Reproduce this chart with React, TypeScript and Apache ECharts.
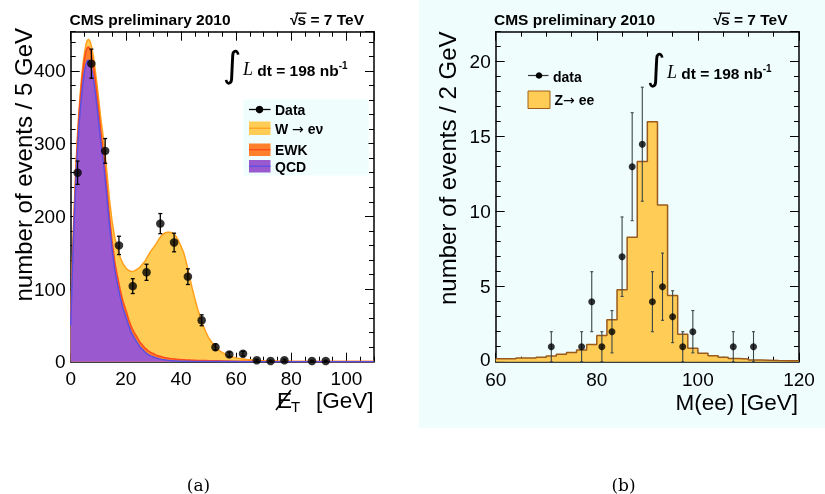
import React, { useEffect, useRef } from "react";
import * as echarts from "echarts";

// ---------- Panel (a): missing E_T ----------
const metX = [0, 0.5, 1, 1.5, 2, 2.5, 3, 3.5, 4, 4.5, 5, 5.5, 6, 6.5, 7, 7.5, 8, 8.5, 9, 9.5, 10,
  11, 12, 13, 14, 15, 16, 17, 18, 19, 20, 21, 22, 23, 24, 25, 26, 27, 28, 29, 30,
  31, 32, 33, 34, 35, 36, 37, 38, 39, 40, 41, 42, 43, 44, 45, 46, 47, 48, 49, 50,
  52, 54, 56, 58, 60, 62, 64, 66, 68, 70, 75, 80, 85, 90, 100, 110];
const qcdCurve = [50, 110, 168, 216, 258, 294, 324, 348, 369, 386, 399, 409, 414, 415, 412, 405, 395, 383, 368, 352, 335,
  300, 270, 232, 190, 155, 126, 106, 88, 73, 62, 50, 40, 33, 27, 21, 17, 13, 10, 8, 6.5,
  5, 4, 3.2, 2.6, 2.1, 1.7, 1.4, 1.1, 0.9, 0.7, 0.6, 0.5, 0.45, 0.4, 0.35, 0.3, 0.3, 0.25, 0.25, 0.2,
  0.2, 0.2, 0.15, 0.15, 0.15, 0.1, 0.1, 0.1, 0.1, 0.1, 0.1, 0.1, 0.1, 0.1, 0.1, 0.1];
const ewkCurve = [5, 8, 10, 12, 13, 14, 15, 15.5, 16, 16.5, 17, 17.5, 18, 18, 18, 18, 18, 17.5, 17, 16.5, 16,
  15, 14, 13, 12, 11.5, 11, 10.5, 10, 9.5, 9, 8.5, 8, 7.5, 7, 6.5, 6, 5.6, 5.2, 4.8, 4.5,
  4.1, 3.8, 3.5, 3.2, 3, 2.8, 2.6, 2.5, 2.3, 2.2, 2.1, 2, 1.9, 1.7, 1.6, 1.5, 1.45, 1.4, 1.3, 1.2,
  1.1, 1, 0.9, 0.7, 0.6, 0.5, 0.45, 0.4, 0.35, 0.3, 0.2, 0.15, 0.1, 0.08, 0.05, 0.03];
const wenuCurve = [2, 3, 4, 5, 6, 6.5, 7, 7.5, 8, 8.5, 9, 9.5, 10, 10.5, 11, 11.5, 12, 12.5, 13, 14, 15,
  17, 19, 21, 23, 27, 33, 39, 45, 52, 58, 67, 76, 84, 93, 102, 111, 120, 130, 139, 146,
  153, 161, 167, 171, 173, 173.5, 173, 170, 164, 156, 147, 133, 116, 100, 85, 71, 59.5, 48.5, 39.5, 31.5,
  21, 13.8, 9.3, 6.5, 4.5, 3.3, 2.4, 1.8, 1.3, 1.0, 0.5, 0.25, 0.1, 0.05, 0.02, 0];
const metDataX = [2.5, 7.5, 12.5, 17.5, 22.5, 27.5, 32.5, 37.5, 42.5, 47.5, 52.5, 57.5, 62.5, 67.5, 72.5, 77.5, 87.5, 92.5];
const metDataY = [260, 410, 290, 160, 104, 123, 190, 164, 117, 57, 20, 10, 11, 2, 1, 2, 1, 1];
const metDataErr = [16, 20, 17, 12.6, 10.2, 11.1, 13.8, 12.8, 10.8, 7.5, 4.5, 3.2, 3.3, 1.4, 1, 1.4, 1, 1];

// ---------- Panel (b): Z -> ee ----------
const zeeBinLow = [60, 62, 64, 66, 68, 70, 72, 74, 76, 78, 80, 82, 84, 86, 88, 90, 92, 94, 96, 98,
  100, 102, 104, 106, 108, 110, 112, 114, 116, 118, 120];
const zeeMC = [0.2, 0.2, 0.25, 0.25, 0.3, 0.38, 0.5, 0.62, 0.78, 1.15, 1.74, 2.8, 4.8, 8.3, 13.35, 16.0, 10.45, 4.42, 1.83, 0.9,
  0.56, 0.4, 0.3, 0.22, 0.18, 0.12, 0.1, 0.08, 0.07, 0.06, 0.06];
const zeeDataX = [71, 77, 79, 81, 83, 85, 87, 89, 91, 93, 95, 97, 99, 107, 111];
const zeeDataY = [1, 1, 4, 1, 2, 7, 13, 14.5, 4, 5, 3, 1, 2, 1, 1];
const zeeDataErr = [1, 1, 2, 1, 1.41, 2.65, 3.6, 3.8, 2, 2.24, 1.73, 1, 1.41, 1, 1];

// axis ranges and tick steps
const metXTicks = { min: 0, max: 110, major: 20, minor: 5 };
const metYTicks = { min: 0, max: 454, major: 100, minor: 20 };
const zeeXTicks = { min: 60, max: 120, major: 20, minor: 5 };
const zeeYTicks = { min: 0, max: 22, major: 5, minor: 1 };

const SANS = "Liberation Sans";

function axes(dim: "x" | "y", grid: number, t: any, showMaxLabel: boolean, labelExtra: any = {}) {
  const sides = dim === "x" ? ["bottom", "top"] : ["left", "right"];
  const out: any[] = [];
  sides.forEach((pos, si) => {
    [true, false].forEach((major) => {
      out.push({
        type: "value",
        gridIndex: grid,
        position: pos,
        min: t.min,
        max: t.max,
        interval: major ? t.major : t.minor,
        axisLine: { show: major, onZero: false, lineStyle: { color: "#000", width: 1.5 } },
        axisTick: { show: true, inside: true, length: major ? 9 : 5, lineStyle: { color: "#000", width: 1 } },
        axisLabel: {
          show: major && si === 0,
          showMaxLabel,
          color: "#000",
          fontFamily: SANS,
          fontSize: 19,
          lineHeight: 15,
          margin: dim === "x" ? 9 : 5,
          ...labelExtra,
        },
        splitLine: { show: false },
      });
    });
  });
  return out;
}

const errRender = (capHalf: number, color: string, width: number) => (params: any, api: any) => {
  const x = api.value(0);
  const y = api.value(1);
  const e = api.value(2);
  const lo = api.coord([x, Math.max(y - e, 0)]);
  const hi = api.coord([x, y + e]);
  const style = { stroke: color, lineWidth: width };
  return {
    type: "group",
    children: [
      { type: "line", shape: { x1: lo[0], y1: lo[1], x2: hi[0], y2: hi[1] }, style },
      { type: "line", shape: { x1: lo[0] - capHalf, y1: lo[1], x2: lo[0] + capHalf, y2: lo[1] }, style },
      { type: "line", shape: { x1: hi[0] - capHalf, y1: hi[1], x2: hi[0] + capHalf, y2: hi[1] }, style },
    ],
  };
};

function txt(x: number, y: number, text: string, o: any = {}) {
  return {
    type: "text",
    x,
    y,
    rotation: o.rotation || 0,
    z: 20,
    style: {
      text,
      fill: o.color || "#000",
      fontFamily: o.family || SANS,
      fontSize: o.size || 15,
      fontWeight: o.weight || "normal",
      fontStyle: o.style || "normal",
      align: o.align || "left",
      textAlign: o.align || "left",
      verticalAlign: "middle",
      textVerticalAlign: "middle",
      rich: o.rich,
    },
  };
}
function ln(x1: number, y1: number, x2: number, y2: number, stroke: string, w: number) {
  return { type: "line", z: 20, shape: { x1, y1, x2, y2 }, style: { stroke, lineWidth: w } };
}
function box(x: number, y: number, w: number, h: number, fill: string, stroke?: string) {
  return { type: "rect", z: 19, shape: { x, y, width: w, height: h }, style: { fill, stroke: stroke || null, lineWidth: 1 } };
}

const C_QCD = "#9b59d0", L_QCD = "#5a4fe3";
const C_EWK = "#ff7f2a", L_EWK = "#ff4a1c";
const C_W = "#ffcc55", L_W = "#ffa11c";
const CYAN = "#effdfd";

const legendRich = {
  a: { fontFamily: SANS, fontWeight: "bold", fontSize: 14 },
  r: { fontFamily: "DejaVu Sans", fontWeight: "normal", fontSize: 14 },
};

function intLabel(x: number, y: number) {
  return [
    txt(x, y - 3, "\u222B", { size: 36, family: "DejaVu Sans", align: "center" }),
    txt(x + 11, y + 2, "{L|L}{b| dt = 198 nb}{s|-1}", {
      rich: {
        L: { fontFamily: "Liberation Serif", fontStyle: "italic", fontSize: 18, verticalAlign: "bottom", lineHeight: 18 },
        b: { fontFamily: SANS, fontWeight: "bold", fontSize: 15.5, verticalAlign: "bottom", lineHeight: 18 },
        s: { fontFamily: SANS, fontWeight: "bold", fontSize: 10, verticalAlign: "top", lineHeight: 10 },
      },
    }),
  ];
}

function header(x0: number, xs: number) {
  return [
    txt(x0, 19.5, "CMS preliminary 2010", { weight: "bold", size: 15.5 }),
    txt(xs, 19.5, "\u221A", { weight: "bold", size: 15.5 }),
    txt(xs + 7.5, 19.5, "s = 7 TeV", { weight: "bold", size: 15.5 }),
    ln(xs + 5.5, 13.2, xs + 16.5, 13.2, "#000", 1.3),
  ];
}

export default function App() {
  const ref = useRef<HTMLDivElement>(null);
  useEffect(() => {
    if (!ref.current) return;
    const chart = echarts.init(ref.current, undefined, { renderer: "svg" });
    const zeroLift = {
      formatter: (v: number) => (v === 0 ? "{z|0}" : String(v)),
      rich: { z: { fontFamily: SANS, fontSize: 19, color: "#000", lineHeight: 15, padding: [0, 0, 5, 0] } },
    };
    const xAxis = [...axes("x", 0, metXTicks, false), ...axes("x", 1, zeeXTicks, true, { margin: 10 })];
    const yAxis = [...axes("y", 0, metYTicks, false), ...axes("y", 1, zeeYTicks, false, zeroLift)];

    // stacked sums (QCD at the bottom, then EWK, then W on top)
    const cumQE = qcdCurve.map((q, i) => q + ewkCurve[i]);
    const cumAll = cumQE.map((v, i) => v + wenuCurve[i]);

    const graphic: any[] = [
      { type: "rect", z: -10, shape: { x: 419, y: 0, width: 406, height: 428 }, style: { fill: CYAN } },
      ...header(69.5, 290),
      ...header(494, 713.5),
      ...intLabel(232, 67),
      ...intLabel(656, 70),
      // legend (a)
      box(243.5, 99.5, 125, 76, CYAN),
      ln(249, 109.5, 270.5, 109.5, "#000", 1.3),
      { type: "circle", z: 21, shape: { cx: 259.5, cy: 109.5, r: 3.8 }, style: { fill: "#000" } },
      txt(275, 110, "Data", { weight: "bold", size: 14 }),
      box(249, 121.5, 21.5, 13.5, C_W),
      ln(249, 128.2, 270.5, 128.2, L_W, 1.3),
      txt(275, 129, "{a|W }{r|\u2192}{a| e\u03BD}", { rich: legendRich }),
      box(249, 143.5, 21.5, 12.5, C_EWK),
      ln(249, 149.7, 270.5, 149.7, L_EWK, 1.3),
      txt(275, 150, "EWK", { weight: "bold", size: 14 }),
      box(249, 160, 21.5, 12.5, C_QCD),
      ln(249, 166.2, 270.5, 166.2, L_QCD, 1.3),
      txt(275, 166.5, "QCD", { weight: "bold", size: 14 }),
      // legend (b)
      ln(528, 75.5, 548.5, 75.5, "#333", 1.2),
      { type: "circle", z: 21, shape: { cx: 539, cy: 75.5, r: 3.3 }, style: { fill: "#000" } },
      txt(553, 76.5, "data", { weight: "bold", size: 14 }),
      box(528, 91, 22, 17.5, C_W, "#a0601c"),
      txt(554.5, 100, "{a|Z}{r|\u2192}{a| ee}", { rich: legendRich }),
      // axis titles
      txt(23.5, 28, "number of events / 5 GeV", { size: 24, rotation: Math.PI / 2, align: "right" }),
      txt(447, 31.5, "number of events / 2 GeV", { size: 24, rotation: Math.PI / 2, align: "right" }),
      txt(277, 400, "E", { size: 22.5 }),
      txt(291, 406, "T", { size: 15 }),
      ln(276, 410, 291, 390, "#000", 1.6),
      txt(373.5, 400, "[GeV]", { size: 22.5, align: "right" }),
      txt(798, 402.5, "M(ee) [GeV]", { size: 22.5, align: "right" }),
      // captions
      txt(198.5, 485, "(a)", { size: 17, family: "DejaVu Serif", align: "center" }),
      txt(623.5, 485, "(b)", { size: 17, family: "DejaVu Serif", align: "center" }),
    ];

    const areaSeries = (name: string, vals: number[], fill: string, line: string, z: number) => ({
      name,
      type: "line",
      xAxisIndex: 0,
      yAxisIndex: 0,
      symbol: "none",
      showSymbol: false,
      data: metX.map((x, i) => [x, vals[i]]),
      lineStyle: { color: line, width: 1.5 },
      areaStyle: { color: fill, opacity: 1 },
      itemStyle: { color: fill },
      z,
    });

    chart.setOption({
      animation: false,
      grid: [
        { left: 70.7, top: 31.7, width: 303.3, height: 330, containLabel: false },
        { left: 495.7, top: 31.7, width: 303.3, height: 330, containLabel: false },
      ],
      xAxis,
      yAxis,
      graphic,
      series: [
        areaSeries("W", cumAll, C_W, L_W, 2),
        areaSeries("EWK", cumQE, C_EWK, L_EWK, 3),
        areaSeries("QCD", qcdCurve, C_QCD, L_QCD, 4),
        {
          type: "custom",
          xAxisIndex: 0,
          yAxisIndex: 0,
          renderItem: errRender(2, "#000", 1.3),
          encode: { x: 0, y: 1 },
          data: metDataX.map((x, i) => [x, metDataY[i], metDataErr[i]]),
          z: 5,
        },
        {
          type: "scatter",
          xAxisIndex: 0,
          yAxisIndex: 0,
          symbol: "circle",
          symbolSize: 8.5,
          itemStyle: { color: "#000" },
          data: metDataX.map((x, i) => [x, metDataY[i]]),
          z: 6,
        },
        {
          type: "line",
          xAxisIndex: 4,
          yAxisIndex: 4,
          step: "end",
          symbol: "none",
          showSymbol: false,
          data: zeeBinLow.map((x, i) => [x, zeeMC[i]]),
          lineStyle: { color: "#9a5a1c", width: 1.5 },
          areaStyle: { color: C_W, opacity: 1 },
          z: 2,
        },
        {
          type: "custom",
          xAxisIndex: 4,
          yAxisIndex: 4,
          renderItem: errRender(1.5, "#3c4646", 1.1),
          encode: { x: 0, y: 1 },
          data: zeeDataX.map((x, i) => [x, zeeDataY[i], zeeDataErr[i]]),
          z: 5,
        },
        {
          type: "scatter",
          xAxisIndex: 4,
          yAxisIndex: 4,
          symbol: "circle",
          symbolSize: 7,
          itemStyle: { color: "#000" },
          data: zeeDataX.map((x, i) => [x, zeeDataY[i]]),
          z: 6,
        },
      ],
    });
    return () => chart.dispose();
  }, []);
  return <div ref={ref} style={{ position: "fixed", left: 0, top: 0, width: 825, height: 494 }} />;
}
